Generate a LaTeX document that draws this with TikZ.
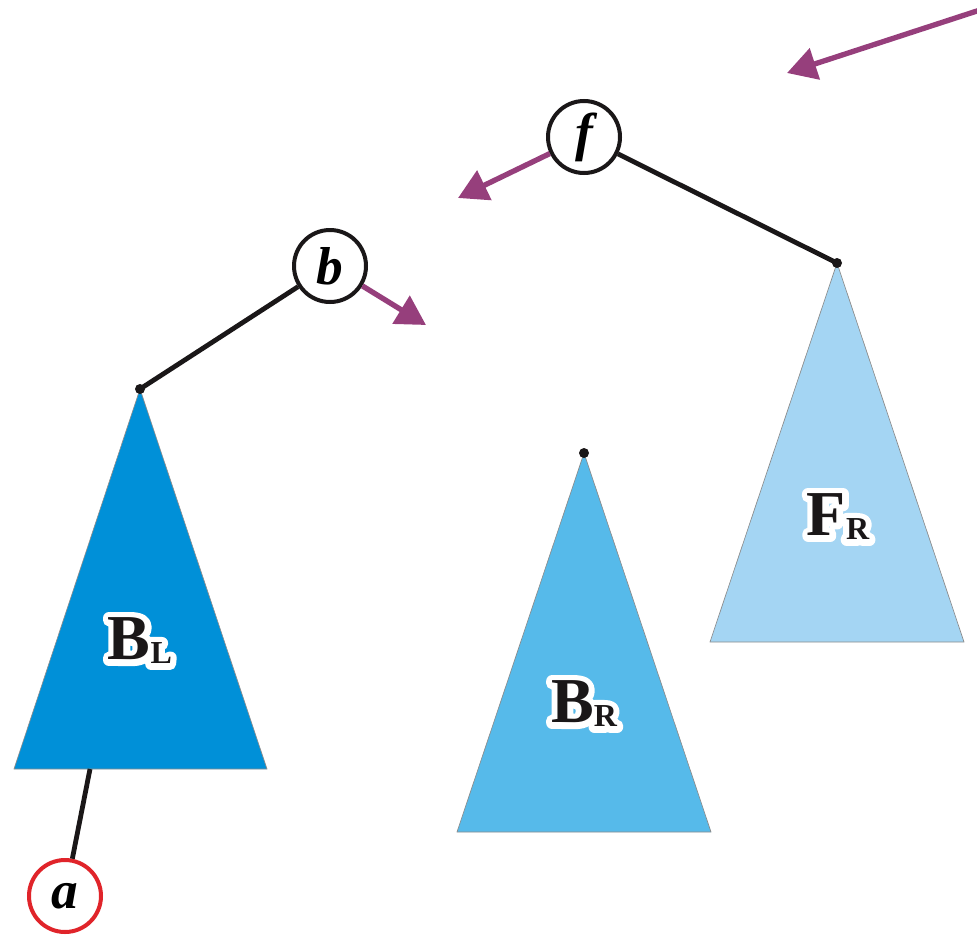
\documentclass[tikz,border=0pt]{standalone}
\usepackage{fontspec}
\setmainfont{Liberation Serif}
\usetikzlibrary{arrows.meta}
\definecolor{blL}{HTML}{0090D8}
\definecolor{blR}{HTML}{56BAEA}
\definecolor{blF}{HTML}{A4D5F3}
\definecolor{purp}{HTML}{963F7C}
\definecolor{redc}{HTML}{E0242A}
\definecolor{ink}{HTML}{1A1718}
\newcommand{\lbltext}[2]{\bfseries\fontsize{48}{48}\selectfont #1\raisebox{-3pt}{\fontsize{24}{24}\selectfont #2}}
\newcommand{\treelbl}[2]{\rlap{\color{white}\special{pdf:literal direct 1 1 1 RG 9 w 1 j 2 Tr}\lbltext{#1}{#2}\special{pdf:literal direct 0 Tr}}{\color{ink}\lbltext{#1}{#2}}}
\tikzset{
  vert/.style={circle, draw=ink, line width=3pt, minimum size=54pt, inner sep=0pt, fill=white,
    font=\bfseries\itshape\fontsize{40}{40}\selectfont},
  edge/.style={draw=ink, line width=3.6pt},
  ptr/.style={draw=purp, line width=4pt, -{Triangle[length=22pt,width=24pt]}},
  tri/.style={draw=black!45, line width=0.5pt},
  apexdot/.style={circle, fill=ink, inner sep=0pt, minimum size=7.5pt}
}
\begin{document}
\begin{tikzpicture}[x=0.75pt,y=-0.75pt]
\useasboundingbox (0,0) rectangle (977,935);
% triangles
\filldraw[tri, fill=blL] (140,389) -- (14,769) -- (267,769) -- cycle;
\filldraw[tri, fill=blR] (584,453) -- (457,832) -- (711,832) -- cycle;
\filldraw[tri, fill=blF] (837,263) -- (710,642) -- (964,642) -- cycle;
% apex dots
\node[apexdot] (aBL) at (140,389) {};
\node[apexdot] (aBR) at (584,453) {};
\node[apexdot] (aFR) at (837,263) {};
\coordinate (baseA) at (90,769);
% vertices
\node[vert] (f) at (584,137) {f};
\node[vert] (b) at (330,266) {b};
\node[vert, draw=redc] (a) at (65,896) {a};
% edges
\draw[edge] (f) -- (aFR.center);
\draw[edge] (b) -- (aBL.center);
\draw[edge] (baseA) -- (a);
% pointer arrows
\coordinate (tf) at (458,198);
\coordinate (tb) at (426,325);
\coordinate (src) at (980,10);
\coordinate (tt) at (787,73);
\draw[ptr] (f) -- (tf);
\draw[ptr] (b) -- (tb);
\draw[ptr] (src) -- (tt);
% labels
\node (lBL) at (140,641) {\treelbl{B}{L}};
\node (lBR) at (584,704) {\treelbl{B}{R}};
\node (lFR) at (838,517) {\treelbl{F}{R}};
\end{tikzpicture}
\end{document}
